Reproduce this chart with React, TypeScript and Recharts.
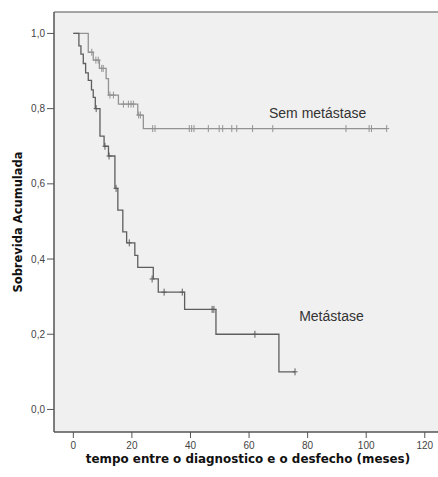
import { ComposedChart, Line, Scatter, XAxis, YAxis, CartesianGrid, ReferenceLine, ReferenceDot } from 'recharts';

// Kaplan-Meier steps (time in months, cumulative survival)
const metTime = [0, 1.9, 2.6, 3.4, 4.2, 5.1, 6.2, 6.8, 7.5, 9.1, 10.5, 12, 14.2, 15.2, 16.9, 18.2, 21, 22, 27.3, 29, 38, 48.7, 70.2, 75.7];
const metSurv = [1.0, 0.967, 0.945, 0.92, 0.895, 0.875, 0.85, 0.83, 0.8, 0.727, 0.7, 0.674, 0.588, 0.53, 0.472, 0.443, 0.41, 0.378, 0.347, 0.312, 0.266, 0.2, 0.1, 0.1];
const metCensTime = [7.8, 10.8, 12.2, 14.6, 19.1, 26.9, 31, 37.2, 47.4, 48, 62, 75.7];
const metCensSurv = [0.8, 0.7, 0.674, 0.588, 0.443, 0.347, 0.312, 0.312, 0.266, 0.266, 0.2, 0.1];

const semTime = [0, 5.1, 6.8, 8.9, 11.2, 12, 15.4, 22, 23.9, 107];
const semSurv = [1.0, 0.95, 0.929, 0.907, 0.88, 0.836, 0.812, 0.783, 0.747, 0.747];
const semCensTime = [6.3, 7.7, 8.5, 9.7, 10.2, 12.5, 13.7, 17.1, 18.8, 19.7, 20.5, 22.3, 22.9, 27.1, 27.9, 39.6, 40.4, 41.2, 46.1, 49.8, 51, 54.1, 55.8, 61.2, 68.1, 93.1, 101, 101.8, 107];
const semCensSurv = [0.95, 0.929, 0.929, 0.907, 0.907, 0.836, 0.836, 0.812, 0.812, 0.812, 0.812, 0.783, 0.783, 0.747, 0.747, 0.747, 0.747, 0.747, 0.747, 0.747, 0.747, 0.747, 0.747, 0.747, 0.747, 0.747, 0.747, 0.747, 0.747];

const xTicks = [0, 20, 40, 60, 80, 100, 120];
const yTicks = [0, 0.2, 0.4, 0.6, 0.8, 1.0];

const X_DOMAIN: [number, number] = [-6.6, 125.2];
const Y_DOMAIN: [number, number] = [-0.06, 1.057];

const MET_COLOR = '#5e5e5e';
const SEM_COLOR = '#939393';
const FONT = '"Liberation Sans", Arial, sans-serif';
const TITLE_FONT = '"DejaVu Sans", Verdana, sans-serif';

const zip = (t: number[], s: number[]) => t.map((v, i) => ({ t: v, s: s[i] }));

const metData = zip(metTime, metSurv);
const semData = zip(semTime, semSurv);
const metCens = zip(metCensTime, metCensSurv);
const semCens = zip(semCensTime, semCensSurv);

function censorMark(color: string) {
  return (p: any) => {
    const { cx, cy } = p;
    return (
      <g>
        <line x1={cx} x2={cx} y1={cy - 3.5} y2={cy + 3.5} stroke={color} strokeWidth={1} />
        <line x1={cx - 2.5} x2={cx + 2.5} y1={cy} y2={cy} stroke={color} strokeWidth={1} />
      </g>
    );
  };
}

function annotation(text: string) {
  return (p: any) => (
    <text x={p.cx} y={p.cy} fontFamily={FONT} fontSize={14} fill="#333" dominantBaseline="central">
      {text}
    </text>
  );
}

const fmtY = (v: number) => v.toFixed(1).replace('.', ',');

export default function App() {
  return (
    <div style={{ position: 'absolute', left: 0, top: 0, width: 438, height: 477, overflow: 'hidden', background: '#fff' }}>
      <ComposedChart width={442} height={477} margin={{ top: 12, right: 2, bottom: 0, left: 0 }}>
        <CartesianGrid horizontal={false} vertical={false} fill="#f0f0f0" stroke="none" />
        <XAxis
          type="number"
          dataKey="t"
          domain={X_DOMAIN}
          ticks={xTicks}
          allowDataOverflow
          height={45}
          tickSize={6}
          tickMargin={4}
          axisLine={{ stroke: '#555', strokeWidth: 1.5 }}
          tickLine={{ stroke: '#555' }}
          tick={{ fontSize: 10, fill: '#444', fontFamily: FONT }}
          label={{
            content: () => (
              <text x={248} y={459} textAnchor="middle" dominantBaseline="central" fontFamily={TITLE_FONT} fontWeight="bold" fontSize={11.9} fill="#111">
                tempo entre o diagnostico e o desfecho (meses)
              </text>
            ),
          }}
        />
        <YAxis
          type="number"
          dataKey="s"
          domain={Y_DOMAIN}
          ticks={yTicks}
          allowDataOverflow
          width={54}
          tickSize={7}
          tickMargin={2}
          tickFormatter={fmtY}
          axisLine={{ stroke: '#555', strokeWidth: 1.5 }}
          tickLine={{ stroke: '#555' }}
          tick={{ fontSize: 10, fill: '#444', fontFamily: FONT }}
          label={{
            content: () => (
              <text x={18} y={222} transform="rotate(-90 18 222)" textAnchor="middle" dominantBaseline="central" fontFamily={TITLE_FONT} fontWeight="bold" fontSize={11.5} fill="#111">
                Sobrevida Acumulada
              </text>
            ),
          }}
        />
        <ReferenceLine y={Y_DOMAIN[1]} stroke="#8a8a8a" strokeWidth={1.5} />
        <Line data={semData} dataKey="s" type="stepAfter" stroke={SEM_COLOR} strokeWidth={1.3} dot={false} activeDot={false} isAnimationActive={false} />
        <Line data={metData} dataKey="s" type="stepAfter" stroke={MET_COLOR} strokeWidth={1.3} dot={false} activeDot={false} isAnimationActive={false} />
        <Scatter data={semCens} dataKey="s" shape={censorMark(SEM_COLOR)} isAnimationActive={false} />
        <Scatter data={metCens} dataKey="s" shape={censorMark(MET_COLOR)} isAnimationActive={false} />
        <ReferenceDot x={66.8} y={0.789} r={0} shape={annotation('Sem metástase')} />
        <ReferenceDot x={77.1} y={0.248} r={0} shape={annotation('Metástase')} />
      </ComposedChart>
    </div>
  );
}
